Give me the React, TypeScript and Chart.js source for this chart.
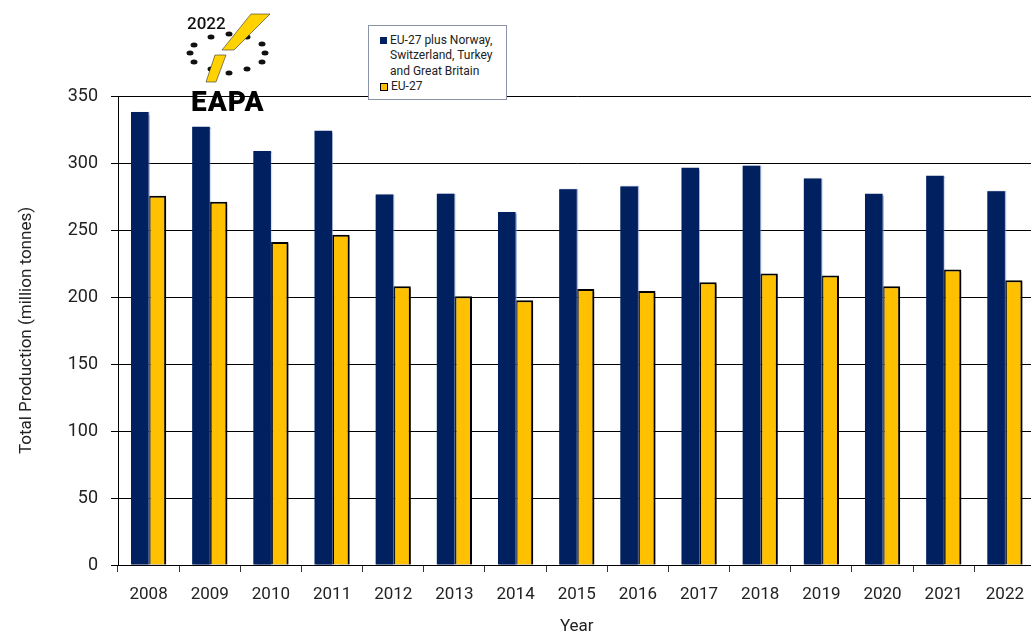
import React, { useEffect, useRef } from "react";
import { Chart, registerables } from "chart.js";

Chart.register(...registerables);

const years = ["2008", "2009", "2010", "2011", "2012", "2013", "2014", "2015", "2016", "2017", "2018", "2019", "2020", "2021", "2022"];
const euPlus = [338, 327, 309, 324, 276.5, 277, 263.5, 280.5, 282.5, 296.5, 298, 288.5, 277, 290.5, 279];
const eu27 = [275.5, 271, 241, 246.5, 208, 200.5, 197.5, 206, 204.5, 211, 217.5, 216, 208, 220.5, 212.5];
const seriesNames = ["EU-27 plus Norway, Switzerland, Turkey and Great Britain", "EU-27"];
const yTicks = [0, 50, 100, 150, 200, 250, 300, 350];

const NAVY = "#00205f";
const YELLOW = "#ffc000";
const FONT = "Roboto, 'DejaVu Sans', sans-serif";

const shadowPlugin = {
  id: "barShadow",
  beforeDatasetDraw(chart: any, args: any) {
    const ctx = chart.ctx;
    ctx.save();
    if (args.index === 1) {
      ctx.shadowColor = "rgba(0,0,0,0.4)";
      ctx.shadowOffsetX = 2;
      ctx.shadowOffsetY = 2;
      ctx.shadowBlur = 1;
    } else {
      ctx.shadowColor = "rgba(120,140,190,0.6)";
      ctx.shadowOffsetX = 1;
      ctx.shadowOffsetY = 0;
      ctx.shadowBlur = 1;
    }
  },
  afterDatasetDraw(chart: any) {
    chart.ctx.restore();
  },
};

export default function App() {
  const ref = useRef<HTMLCanvasElement | null>(null);

  useEffect(() => {
    const canvas = ref.current;
    if (!canvas) return;
    const chart = new Chart(canvas, {
      type: "bar",
      data: {
        labels: years,
        datasets: [
          {
            label: seriesNames[0],
            data: euPlus,
            backgroundColor: NAVY,
            borderWidth: 0,
            categoryPercentage: 0.575,
            barPercentage: 1.0,
          },
          {
            label: seriesNames[1],
            data: eu27,
            backgroundColor: YELLOW,
            borderColor: "#000",
            borderWidth: 2,
            categoryPercentage: 0.575,
            barPercentage: 1.0,
          },
        ],
      },
      plugins: [shadowPlugin],
      options: {
        responsive: false,
        animation: false,
        devicePixelRatio: 1,
        layout: { padding: { top: 96, right: 0, bottom: 0, left: 0 } },
        plugins: {
          legend: { display: false },
          tooltip: { enabled: false },
          title: { display: false },
        },
        scales: {
          x: {
            grid: {
              display: true,
              drawOnChartArea: false,
              drawTicks: true,
              tickLength: 7,
              color: "#333",
              offset: true,
            },
            border: { display: true, color: "#000", width: 1 },
            ticks: {
              color: "#222",
              font: { family: FONT, size: 17 },
              padding: 13,
              maxRotation: 0,
              autoSkip: false,
            },
            title: {
              display: true,
              text: "Year",
              color: "#222",
              font: { family: FONT, size: 17, lineHeight: 1 },
              padding: { top: 0, bottom: 0 },
            },
            afterFit(scale: any) {
              scale.height = 70;
            },
          },
          y: {
            min: 0,
            max: 350,
            afterBuildTicks(scale: any) {
              scale.ticks = yTicks.map((v) => ({ value: v }));
            },
            grid: {
              color: "#000",
              lineWidth: 1,
              drawTicks: true,
              tickLength: 7,
            },
            border: { display: true, color: "#000", width: 1 },
            ticks: {
              color: "#222",
              font: { family: FONT, size: 18 },
              padding: 13,
            },
            title: {
              display: true,
              text: "Total Production (million tonnes)",
              color: "#222",
              font: { family: FONT, size: 17 },
              padding: { top: 17, bottom: 0 },
            },
            afterFit(scale: any) {
              scale.width = 118;
            },
          },
        },
      },
    });
    return () => chart.destroy();
  }, []);

  const legendRow: React.CSSProperties = {
    display: "flex",
    alignItems: "flex-start",
    lineHeight: "15.3px",
  };

  return (
    <div
      style={{
        position: "fixed",
        left: 0,
        top: 0,
        width: 1031,
        height: 635,
        overflow: "hidden",
        background: "#fff",
      }}
    >
      <canvas
        ref={ref}
        width={1037}
        height={635}
        style={{ position: "absolute", left: 0, top: 0, display: "block", width: 1037, height: 635 }}
      />
      {/* Logo */}
      <svg
        width={100}
        height={112}
        viewBox="180 4 100 112"
        style={{ position: "absolute", left: 180, top: 4 }}
      >
        <text x={187} y={29} fontFamily={FONT} fontSize={17} fontWeight={500} fill="#111">
          2022
        </text>
        {[
          [211, 37],
          [229, 34],
          [247, 37],
          [194, 45],
          [262, 44],
          [190, 53],
          [265, 53],
          [194, 62],
          [262, 62],
          [211, 69],
          [229, 73],
          [247, 69],
        ].map(([cx, cy], i) => (
          <ellipse key={i} cx={cx} cy={cy} rx={3.5} ry={2.5} fill="#111" />
        ))}
        <polygon points="251,14 270,14 234,50 222,50" fill="#ffd200" stroke="#333" strokeWidth={0.6} />
        <polygon points="215,55 226,55 216,82 206,82" fill="#ffd200" stroke="#333" strokeWidth={0.6} />
        <text x={191} y={111} fontFamily={FONT} fontSize={28} fontWeight={900} fill="#000" letterSpacing={1}>
          EAPA
        </text>
      </svg>
      {/* Legend */}
      <div
        style={{
          position: "absolute",
          left: 368,
          top: 25,
          width: 139,
          height: 75,
          border: "1.5px solid #8a93a8",
          background: "#fff",
          boxSizing: "border-box",
          fontFamily: FONT,
          fontSize: 12,
          color: "#222",
          padding: "7px 3px 0 11px",
        }}
      >
        <div style={legendRow}>
          <span
            style={{
              display: "inline-block",
              width: 7,
              height: 7,
              background: NAVY,
              marginTop: 4,
              marginRight: 3,
              flex: "0 0 auto",
            }}
          />
          <span>
            EU-27 plus Norway,
            <br />
            Switzerland, Turkey
            <br />
            and Great Britain
          </span>
        </div>
        <div style={legendRow}>
          <span
            style={{
              display: "inline-block",
              width: 8,
              height: 8,
              background: YELLOW,
              border: "1px solid #000",
              boxSizing: "border-box",
              marginTop: 4,
              marginRight: 3,
              flex: "0 0 auto",
            }}
          />
          <span>{seriesNames[1]}</span>
        </div>
      </div>
    </div>
  );
}
